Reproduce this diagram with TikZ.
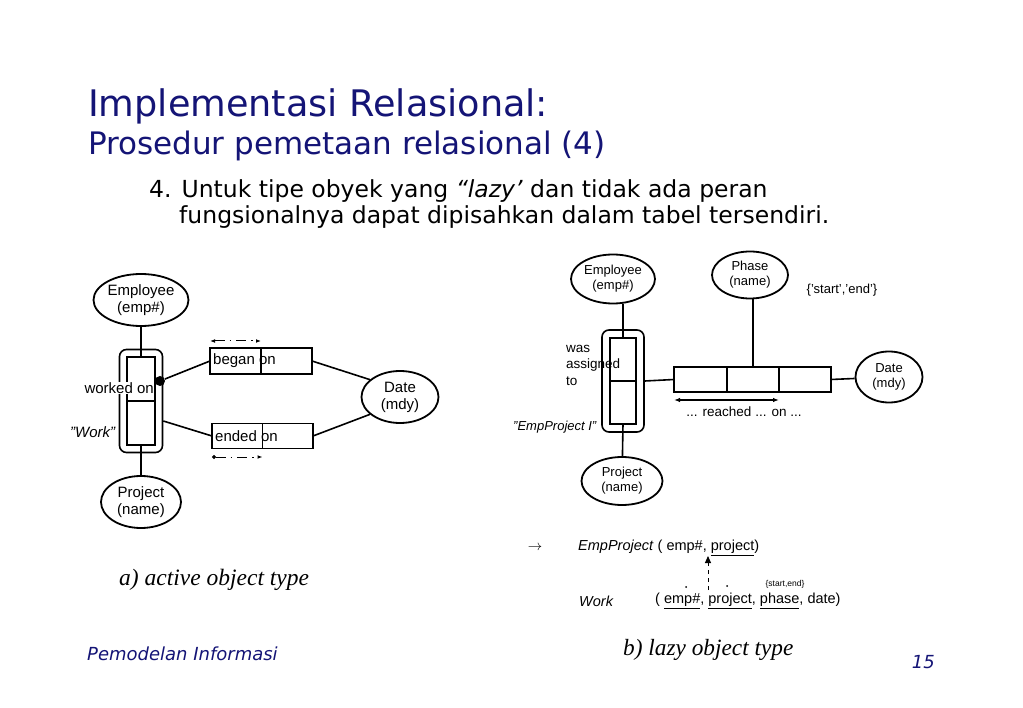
\documentclass[tikz,border=0pt]{standalone}
\usepackage{fontspec}
\setmainfont{Liberation Sans}
\newfontfamily\slidefont{DejaVu Sans}
\newfontfamily\captionfont{Liberation Serif}
\usetikzlibrary{
  arrows.meta,
  calc,
  positioning,
  shapes,
}
\definecolor{slideblue}{RGB}{20,20,118}
\tikzset{
  >=Latex,
  attr/.style={ellipse,draw,line width=1.8pt,align=center,inner xsep=-1.5pt,inner ysep=-1pt},
  rolebox/.style={rectangle,draw,line width=1.6pt,rounded corners=7pt,inner sep=0pt},
  rolecell/.style={rectangle,draw,line width=2.2pt,inner sep=0pt,outer sep=0pt},
  factcell/.style={rectangle,draw,line width=1.8pt,inner sep=0pt,outer sep=0pt},
  link/.style={line width=1.6pt},
  spanarrow/.style={line width=1pt,dash pattern=on 10pt off 5pt on 1.5pt off 5pt},
  fkarrow/.style={line width=1pt,dash pattern=on 4pt off 4pt,-{Triangle[length=7pt,width=6pt]}},
  leftfont/.style={font=\fontsize{15}{17}\selectfont},
  rightfont/.style={font=\fontsize{13}{15}\selectfont},
}

\begin{document}
\begin{tikzpicture}[x=1pt,y=-1pt,node distance=0mm and 0mm]
  \useasboundingbox[fill=white] (0,0) rectangle (1023,708);

  % slide texts
  \node[anchor=base west,inner sep=0pt,text=slideblue,font=\slidefont\fontsize{36.6}{40}\selectfont] (title) at (88,117) {Implementasi Relasional:};
  \node[anchor=base west,inner sep=0pt,text=slideblue,font=\slidefont\fontsize{31}{34}\selectfont] (subtitle) at (88,155) {Prosedur pemetaan relasional (4)};
  \node[anchor=base west,inner sep=0pt,font=\slidefont\fontsize{23.5}{26}\selectfont] (pointA) at (149,198) {4. Untuk tipe obyek yang \textit{“lazy’} dan tidak ada peran};
  \node[anchor=base west,inner sep=0pt,font=\slidefont\fontsize{23.5}{26}\selectfont] (pointB) at (179,224) {fungsionalnya dapat dipisahkan dalam tabel tersendiri.};
  \node[anchor=base west,inner sep=0pt,text=slideblue,font=\slidefont\itshape\fontsize{18}{20}\selectfont] (footer) at (87,660) {Pemodelan Informasi};
  \node[anchor=base east,inner sep=0pt,text=slideblue,font=\slidefont\itshape\fontsize{18}{20}\selectfont] (pageno) at (935,668) {15};
  \node[anchor=base west,inner sep=0pt,font=\captionfont\itshape\fontsize{23.5}{26}\selectfont] (capA) at (119,585) {a) active object type};
  \node[anchor=base west,inner sep=0pt,font=\captionfont\itshape\fontsize{23.3}{26}\selectfont] (capB) at (623,655) {b) lazy object type};

  % a) active object type
  \begin{scope}[leftfont]
    \node[attr,minimum width=95,minimum height=52] (empA) at (141,300) {Employee\\(emp\#)};
    \node[rolebox,minimum width=43,minimum height=103] (rolesA) at (141,401) {};
    \node[rolecell,minimum width=28,minimum height=44] (workA1) at (141,379) {};
    \node[rolecell,minimum width=28,minimum height=44] (workA2) at (141,423) {};
    \node[anchor=west,fill=white,inner sep=0.3pt] (workedA) at (84,388) {worked on};
    \node[anchor=west,inner sep=0pt] (workNameA) at (70,432) {\textit{"Work"}};
    \node[circle,fill,inner sep=0pt,minimum size=10] (dotA) at (160,381) {};
    \node[factcell,minimum width=102,minimum height=26] (beganA) at (261,361) {};
    \node[factcell,minimum width=101,minimum height=25] (endedA) at (262.5,436) {};
    \node[anchor=west,inner sep=0pt] (beganTextA) at ([xshift=3]beganA.west) {began on};
    \node[anchor=west,inner sep=0pt] (endedTextA) at ([xshift=3]endedA.west) {ended on};
    \node[attr,minimum width=77,minimum height=52] (dateA) at (400,397) {Date\\(mdy)};
    \node[attr,minimum width=80,minimum height=52] (projA) at (141,502) {Project\\(name)};

    \draw[factcell] (beganA.north) -- (beganA.south);
    \draw[factcell] (endedA.north) -- (endedA.south);
    \draw[spanarrow,{Latex[length=5pt]}-{Latex[length=5pt]}] ([yshift=7]beganA.north west) -- ([yshift=7]beganA.north);
    \draw[spanarrow,{Circle[length=4pt]}-{Latex[length=5pt]}] ([yshift=-8.5]endedA.south west) -- ([yshift=-8.5]endedA.south);

    \draw[link] (empA) -- (workA1.north);
    \draw[link] (workA2.south) -- (projA);
    \draw[link] (dotA) -- (beganA.west);
    \draw[link] ([yshift=-20]rolesA.east) -- (endedA.west);
    \draw[link] (beganA.east) -- (dateA.150);
    \draw[link] (endedA.east) -- (dateA.210);
  \end{scope}

  % b) lazy object type
  \begin{scope}[rightfont]
    \node[attr,minimum width=84,minimum height=49] (empB) at (613,279) {Employee\\(emp\#)};
    \node[attr,minimum width=76,minimum height=47] (phaseB) at (750,275) {Phase\\(name)};
    \node[inner sep=0pt] (domainB) at (842,290) {\{'start','end'\}};
    \node[rolebox,minimum width=42,minimum height=102] (rolesB) at (623,381) {};
    \node[rolecell,minimum width=26,minimum height=43] (workB1) at (623,359.5) {};
    \node[rolecell,minimum width=26,minimum height=43] (workB2) at (623,402.5) {};
    \node[anchor=west,align=left,inner sep=0pt,font=\fontsize{13.5}{16.5}\selectfont] (assignedB) at (566,365) {was\\assigned\\to};
    \node[inner sep=0pt] (empProjNameB) at (555,427) {\textit{"EmpProject I"}};
    \node[attr,minimum width=81,minimum height=48] (projB) at (622,481) {Project\\(name)};
    \node[factcell,minimum width=53,minimum height=25] (reachB1) at (700.5,379.5) {};
    \node[factcell,minimum width=52,minimum height=25,right=of reachB1] (reachB2) {};
    \node[factcell,minimum width=52,minimum height=25,right=of reachB2] (reachB3) {};
    \node[attr,minimum width=67,minimum height=51] (dateB) at (889,377) {Date\\(mdy)};
    \node[inner sep=0pt,font=\fontsize{13.5}{16}\selectfont] (reachedB) at (744,412) {... reached ... on ...};

    \draw[link] (workB1.north) -- (workB1.north |- empB.south);
    \draw[link] (workB2.south) -- (projB);
    \draw[link] (reachB2.north) -- (reachB2.north |- phaseB.south);
    \draw[link] (rolesB.east) -- (reachB1.west);
    \draw[link] (reachB3.east) -- (dateB);
    \draw[line width=1.2pt,{Latex[length=6pt]}-{Latex[length=6pt]}] ([yshift=-8]reachB1.south west) -- ([yshift=-8]reachB2.south east);
  \end{scope}

  % relations
  \begin{scope}[font=\fontsize{14.5}{16}\selectfont]
    \node[inner sep=0pt] (mapsto) at (535,548) {$\rightarrow$};
    \node[anchor=west,inner sep=0pt] (empProjRel) at (578,548) {\textit{EmpProject} ( emp\#, \underline{project})};
    \node[anchor=west,inner sep=0pt] (workRelName) at (579,601) {\textit{Work}};
    \node[anchor=west,inner sep=0pt] (workRel) at (655,601) {( \underline{emp\#}, \underline{project}, \underline{phase}, date)};
    \node[inner sep=0pt,font=\fontsize{8.5}{9}\selectfont] (phaseDom) at (785,584) {\{start,end\}};
    \coordinate (fkTail) at (708,590);
    \coordinate (fkHead) at (708,556);
    \draw[fkarrow] (fkTail) -- (fkHead);
    \fill (686,587) circle (1);
    \fill (727,586) circle (1);
  \end{scope}
\end{tikzpicture}
\end{document}
